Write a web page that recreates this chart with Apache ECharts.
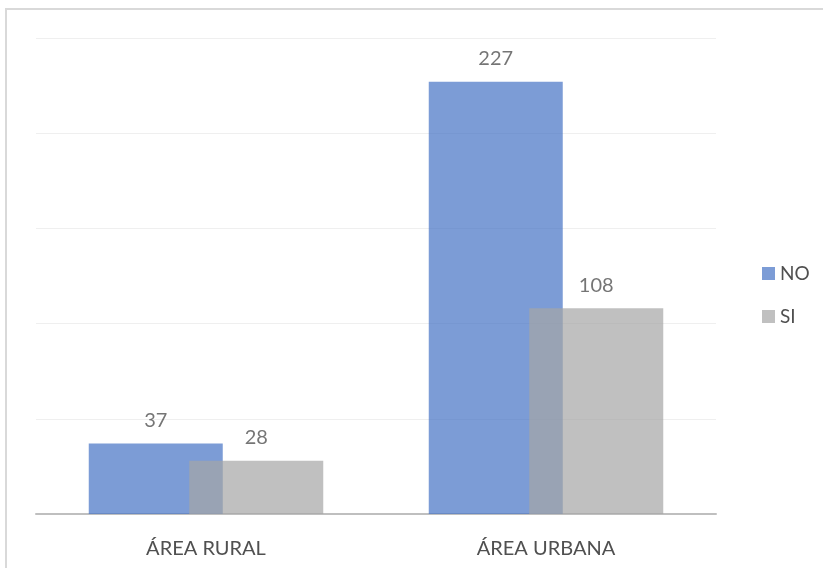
<!DOCTYPE html>
<html>
<head>
<meta charset="utf-8">
<script src="https://cdn.jsdelivr.net/npm/echarts@6/dist/echarts.min.js"></script>
<style>
  html, body { margin: 0; padding: 0; background: #ffffff; }
  #frame { position: absolute; left: 5px; top: 8px; width: 830px; height: 580px; border: 2px solid #d9d9d9; box-sizing: border-box; }
  #chart { position: absolute; left: 0; top: 0; width: 823px; height: 568px; }
</style>
</head>
<body>
<div id="frame"></div>
<div id="chart"></div>
<script>
// Categories and counts per answer
const categories = ['ÁREA RURAL', 'ÁREA URBANA'];
const seriesNames = ['NO', 'SI'];
const valuesNo = [37, 227];
const valuesSi = [28, 108];

const chart = echarts.init(document.getElementById('chart'), null, { renderer: 'canvas' });

const labelStyle = {
  show: true,
  position: 'top',
  distance: 13,
  color: '#3a3a3a',
  fontFamily: 'Lato',
  fontSize: 20
};

chart.setOption({
  backgroundColor: 'transparent',
  animation: false,
  grid: { left: 36, right: 107, top: 38, bottom: 54 },
  legend: {
    orient: 'vertical',
    left: 757,
    top: 259,
    itemWidth: 13,
    itemHeight: 13,
    itemGap: 24,
    icon: 'rect',
    textStyle: { color: '#505050', fontFamily: 'Lato', fontSize: 19, padding: [0, 0, 0, 0] },
    data: seriesNames
  },
  xAxis: {
    type: 'category',
    data: categories,
    axisLine: { lineStyle: { color: '#bfbfbf', width: 2 } },
    axisTick: { show: false },
    axisLabel: { color: '#505050', fontFamily: 'Lato', fontSize: 20, margin: 25 }
  },
  yAxis: {
    type: 'value',
    min: 0,
    max: 250,
    interval: 50,
    axisLine: { show: false },
    axisTick: { show: false },
    axisLabel: { show: false },
    splitLine: { lineStyle: { color: '#efefef', width: 1 } }
  },
  series: [
    {
      name: seriesNames[0],
      type: 'bar',
      data: valuesNo,
      barWidth: 134,
      barGap: '-25%',
      itemStyle: { color: '#4472C4', opacity: 0.7 },
      label: labelStyle
    },
    {
      name: seriesNames[1],
      type: 'bar',
      data: valuesSi,
      barWidth: 134,
      barGap: '-25%',
      itemStyle: { color: '#A5A5A5', opacity: 0.7 },
      label: labelStyle
    }
  ]
});
</script>
</body>
</html>
